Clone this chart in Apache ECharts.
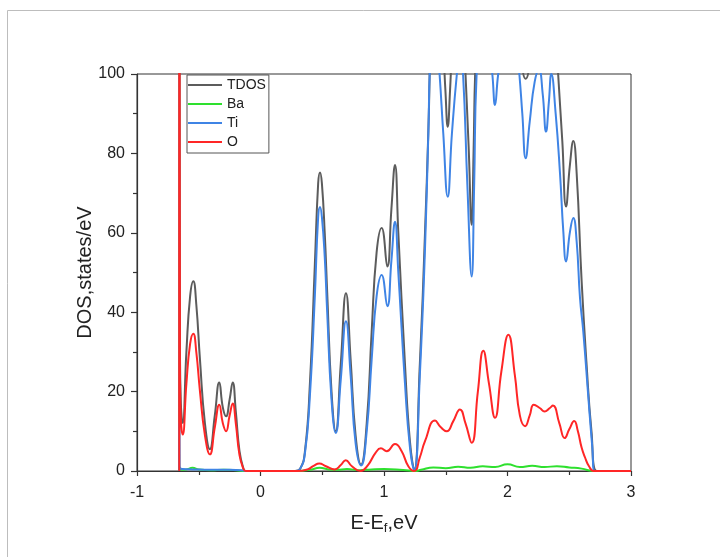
<!DOCTYPE html>
<html>
<head>
<meta charset="utf-8">
<script src="https://cdn.jsdelivr.net/npm/echarts@6/dist/echarts.min.js"></script>
<style>html,body{margin:0;padding:0;background:#fff;}#c{width:720px;height:557px;}</style>
</head>
<body>
<div id="c"></div>
<script>
// Energy (eV) / DOS (states/eV) pairs
const seriesNames = ['TDOS', 'Ba', 'Ti', 'O'];
const xTicks = [-1, 0, 1, 2, 3];
const yTicks = [0, 20, 40, 60, 80, 100];

const tdos = [
  [-0.658,0],[-0.657,160],[-0.652,30],[-0.645,17],[-0.63,12.1],[-0.6,30],[-0.57,44],[-0.544,47.8],[-0.52,42],
  [-0.49,28],[-0.45,12],[-0.41,5.5],[-0.37,14],[-0.334,22.3],[-0.305,16],[-0.279,13.8],[-0.25,18],
  [-0.225,22.3],[-0.2,15],[-0.17,5],[-0.14,0.8],[-0.12,0],[0.05,0],[0.28,0],[0.32,0.5],[0.36,5],
  [0.40,22],[0.44,52],[0.467,72.5],[0.482,75.2],[0.497,72.5],[0.52,60],[0.54,45],[0.575,20],[0.609,10],
  [0.65,27],[0.692,44.8],[0.73,28],[0.77,9],[0.814,1.6],[0.86,12],[0.9,35],[0.94,55],[0.981,61.2],
  [1.027,51.5],[1.06,66],[1.089,77.1],[1.116,60],[1.17,26.8],[1.21,7.5],[1.245,0.3],[1.29,26.8],
  [1.332,60],[1.359,85.5],[1.39,118],[1.43,128],[1.48,106],[1.497,96],[1.516,86.7],[1.535,96],[1.55,106],
  [1.6,128],[1.64,115],[1.66,100],[1.685,82],[1.71,62],[1.725,80],[1.74,102],[1.78,130],[1.84,140],
  [1.9,135],[1.96,140],[2.02,140],[2.08,125],[2.12,102],[2.147,98.8],[2.175,102],[2.22,125],[2.29,128],
  [2.35,130],[2.39,112],[2.41,100],[2.444,83],[2.474,66.6],[2.505,77],[2.533,83.1],[2.56,75],[2.6,48],
  [2.64,27],[2.68,10],[2.722,0],[3.0,0]
];
const ba = [
  [-0.658,0],[-0.657,1],[-0.64,0.3],[-0.6,0.4],[-0.55,0.8],[-0.5,0.4],[-0.4,0.2],[-0.3,0.3],[-0.2,0.2],
  [-0.12,0],[0.3,0],[0.4,0.3],[0.48,0.8],[0.55,0.4],[0.62,0.3],[0.7,0.5],[0.8,0.2],[0.9,0.4],[1.0,0.5],
  [1.1,0.4],[1.2,0.1],[1.25,0],[1.3,0.3],[1.4,0.9],[1.5,0.7],[1.6,1.1],[1.7,0.8],[1.8,1.2],[1.9,1.0],
  [2.0,1.7],[2.1,1.0],[2.2,1.3],[2.3,1.0],[2.4,1.2],[2.5,0.9],[2.6,0.6],[2.7,0],[3.0,0]
];
const ti = [
  [-0.658,0],[-0.657,12],[-0.655,1],[-0.63,0.5],[-0.55,0.4],[-0.4,0.3],[-0.25,0.3],[-0.15,0.2],[-0.12,0],
  [0.28,0],[0.32,0.5],[0.36,4.5],[0.40,19],[0.44,44],[0.467,64],[0.482,66.5],[0.497,64],[0.52,54],
  [0.54,40],[0.575,18],[0.609,9.6],[0.65,23],[0.692,37.7],[0.73,24],[0.77,7],[0.814,1.4],[0.86,10],
  [0.9,28],[0.94,44],[0.981,49.4],[1.027,41.5],[1.06,53],[1.089,62.8],[1.116,50],[1.17,22],[1.21,6],
  [1.245,0.2],[1.29,24],[1.332,56],[1.359,85],[1.38,106],[1.42,112],[1.45,100],[1.48,85],[1.516,69.1],
  [1.55,85],[1.59,100],[1.615,106],[1.64,100],[1.675,72],[1.71,49],[1.73,72],[1.75,100],[1.8,112],
  [1.84,110],[1.877,100],[1.899,92.2],[1.925,100],[2.0,115],[2.06,112],[2.096,100],[2.12,90],[2.147,78.8],
  [2.18,88],[2.22,98],[2.255,101],[2.285,95],[2.312,85.5],[2.335,93],[2.355,100],[2.39,90],[2.425,75],
  [2.452,60.3],[2.474,52.8],[2.506,60.3],[2.533,63.7],[2.56,57.8],[2.587,43.6],[2.614,35],[2.655,18.4],
  [2.687,5.9],[2.706,0],[3.0,0]
];
const o = [
  [-0.658,0],[-0.657,150],[-0.652,25],[-0.645,13],[-0.63,9.2],[-0.6,22],[-0.57,32],[-0.544,34.6],[-0.52,30],
  [-0.49,20],[-0.45,9],[-0.41,4.2],[-0.37,11],[-0.334,16.7],[-0.305,12],[-0.279,10],[-0.25,14],
  [-0.225,17],[-0.2,12],[-0.17,4],[-0.14,0.7],[-0.12,0],[0.1,0],[0.3,0],[0.38,0.4],[0.43,1.3],
  [0.476,1.9],[0.53,1.2],[0.6,0.4],[0.65,1.5],[0.69,2.7],[0.74,1.2],[0.81,0],[0.87,1.5],[0.93,4.5],
  [0.975,5.7],[1.022,5.0],[1.089,6.8],[1.143,5],[1.197,1.2],[1.245,0],[1.29,3.4],[1.332,7.5],
  [1.413,12.7],[1.46,11],[1.508,10],[1.56,12.5],[1.615,15.5],[1.66,12],[1.71,7.1],[1.76,20],
  [1.804,30.3],[1.85,22],[1.899,13.4],[1.95,25],[2.007,34.3],[2.06,24],[2.1,14],[2.142,11.3],
  [2.18,14],[2.213,16.7],[2.264,15.8],[2.3,15],[2.34,15.8],[2.368,16.5],[2.42,12],[2.463,8.3],
  [2.5,10.5],[2.54,12.6],[2.57,10],[2.6,5.9],[2.628,3.4],[2.66,1.2],[2.70,0],[3.0,0]
];
const seriesData = [tdos, ba, ti, o];
const colors = ['#5c5c5c', '#2ee02e', '#3f84e5', '#ff2626'];

const FONT = '"Liberation Sans", Arial, sans-serif';
const chart = echarts.init(document.getElementById('c'), null, {renderer: 'canvas'});
chart.setOption({
  animation: false,
  backgroundColor: '#ffffff',
  graphic: [{
    type: 'polyline',
    shape: {points: [[7.5, 557], [7.5, 10.5], [720, 10.5]]},
    style: {stroke: '#bdbdbd', lineWidth: 1, fill: null}
  }],
  grid: {left: 137, right: 89, top: 74, bottom: 86, show: true, borderColor: '#333', borderWidth: 1},
  legend: {
    data: seriesNames,
    orient: 'vertical',
    left: 187, top: 75,
    icon: 'rect',
    itemWidth: 34, itemHeight: 2, itemGap: 3, itemTextGap: 4,
    padding: [2, 3, 3, 1],
    borderColor: '#555', borderWidth: 1,
    textStyle: {fontFamily: FONT, fontSize: 14, color: '#222', lineHeight: 16}
  },
  xAxis: {
    type: 'value', min: xTicks[0], max: xTicks[xTicks.length - 1], interval: 1,
    axisLine: {show: true, onZero: false, lineStyle: {color: '#333', width: 1.2}},
    axisTick: {show: true, length: 5, lineStyle: {color: '#333', width: 1.2}},
    minorTick: {show: true, splitNumber: 2, length: 4, lineStyle: {color: '#333', width: 1.2}},
    splitLine: {show: false},
    axisLabel: {fontFamily: FONT, fontSize: 16, color: '#222', margin: 14},
    name: '{a|E-E}{sub|f}{a|,eV}',
    nameLocation: 'middle', nameGap: 40, nameMoveOverlap: false,
    nameTextStyle: {
      fontFamily: FONT, fontSize: 20, color: '#222',
      rich: {
        a: {fontFamily: FONT, fontSize: 20, color: '#222', lineHeight: 24},
        sub: {fontFamily: FONT, fontSize: 13, color: '#222', lineHeight: 12, verticalAlign: 'bottom'}
      }
    }
  },
  yAxis: {
    type: 'value', min: yTicks[0], max: yTicks[yTicks.length - 1], interval: 20,
    axisLine: {show: true, onZero: false, lineStyle: {color: '#333', width: 1.2}},
    axisTick: {show: true, length: 6, lineStyle: {color: '#333', width: 1.2}},
    minorTick: {show: true, splitNumber: 2, length: 4, lineStyle: {color: '#333', width: 1.2}},
    splitLine: {show: false},
    axisLabel: {fontFamily: FONT, fontSize: 16, color: '#222', margin: 12},
    name: 'DOS,states/eV',
    nameLocation: 'middle', nameGap: 42, nameMoveOverlap: false,
    nameTextStyle: {fontFamily: FONT, fontSize: 20, color: '#222'}
  },
  series: seriesNames.map((n, i) => ({
    name: n, type: 'line', data: seriesData[i],
    color: colors[i],
    showSymbol: false, symbol: 'none', smooth: 0.5, clip: true,
    lineStyle: {color: colors[i], width: 2}
  }))
});
</script>
</body>
</html>
